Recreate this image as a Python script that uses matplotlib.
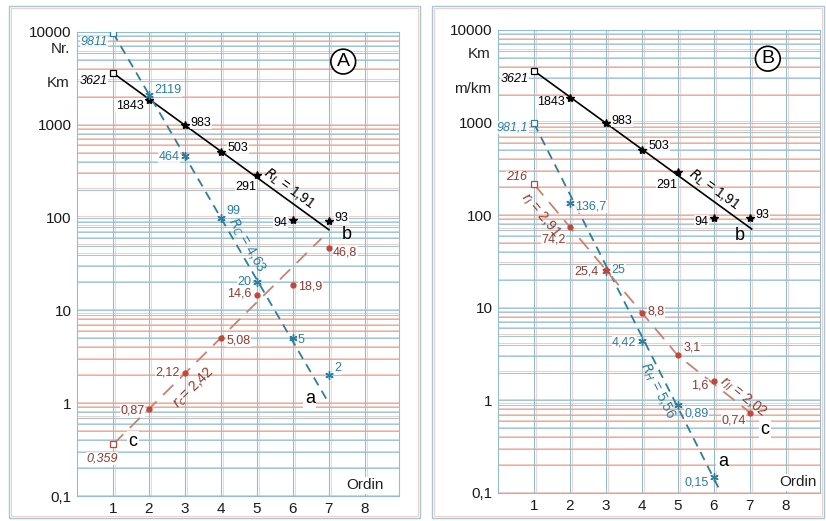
import numpy as np
import matplotlib
matplotlib.use('Agg')
import matplotlib.pyplot as plt
from matplotlib.patches import Rectangle

plt.rcParams['font.family'] = ['Liberation Sans', 'DejaVu Sans']

# ordin (stream order) on x
ordin = [1, 2, 3, 4, 5, 6, 7]

# panel A
a_length = [3621, 1843, 983, 503, 291, 94, 93]      # Km (b)
a_number = [9811, 2119, 464, 99, 20, 5, 2]          # Nr. (a)
a_slope = [0.359, 0.87, 2.12, 5.08, 14.6, 18.9, 46.8]  # (c)

# panel B
b_length = [3621, 1843, 983, 503, 291, 94, 93]      # Km (b)
b_ordin_h = [1, 2, 3, 4, 5, 6]
b_h = [981.1, 136.7, 25, 4.42, 0.89, 0.15]           # (a)
b_slope = [216, 74.2, 25.4, 8.8, 3.1, 1.6, 0.74]     # m/km (c)

# regression lines, end points
a_fit_len_x, a_fit_len_y = [1, 7], [3621, 74]
a_fit_num_x, a_fit_num_y = [1, 7], [9811, 1.0]
a_fit_slope_x, a_fit_slope_y = [1, 6.8], [0.359, 60]
b_fit_len_x, b_fit_len_y = [1, 7.05], [3621, 71]
b_fit_h_x, b_fit_h_y = [1, 6.15], [981.1, 0.11]
b_fit_slope_x, b_fit_slope_y = [1, 5, 7.25], [216, 3.05, 0.62]

BLUE = '#2a7f9e'
RED = '#c0473a'
RED_LINE = '#c9826f'
RED_TXT = '#8e3a2e'
GRID_B = '#92bdd0'
GRID_R = '#f4c4b8'

FS_NUM = 9


def fmt(v):
  return ('%g' % v).replace('.', ',')


def paper(ax):
  ax.set_yscale('log')
  ax.set_xlim(0, 8.95)
  ax.set_ylim(0.1, 10000)
  for e in range(-1, 4):
    for m in range(1, 10):
      v = m * 10.0 ** e
      ax.axhline(v, color=GRID_B, lw=0.6, zorder=1)
      ax.axhline(v * 1.03, color=GRID_R, lw=0.6, zorder=0.9)
  ax.axhline(10000, color=GRID_B, lw=0.6, zorder=1)
  for x in range(1, 9):
    ax.axvline(x, color=GRID_B, lw=0.8, zorder=1)
    ax.axvline(x + 0.05, color=GRID_R, lw=0.5, zorder=0.9)
  for s in ax.spines.values():
    s.set_color(GRID_B)
    s.set_linewidth(0.8)
  ax.set_yticks([0.1, 1, 10, 100, 1000, 10000])
  ax.set_yticklabels(['0,1', '1', '10', '100', '1000', '10000'])
  ax.set_xticks(range(1, 9))
  ax.tick_params(length=0, labelsize=11, colors='#1a1a1a', pad=4)
  ax.yaxis.set_minor_locator(matplotlib.ticker.NullLocator())
  ax.text(8.0 if ax.get_label() == 'A' else 8.33, 0.13, 'Ordin', ha='center',
          va='center', fontsize=11, color='#222222', zorder=5,
          bbox=dict(fc='white', ec='none', pad=1))


def series(ax, x, y, color, marker, ms, labels_off, txtcolor, first_italic=True):
  ax.plot(x[1:], y[1:], ls='none', marker=marker, color=color, ms=ms,
          mew=1.0, zorder=4)
  ax.plot(x[:1], y[:1], ls='none', marker='s', mfc='white', mec=color,
          ms=4, mew=0.9, zorder=4)
  for i, (xi, yi) in enumerate(zip(x, y)):
    dx, dy, ha = labels_off[i]
    ax.annotate(fmt(yi), (xi, yi), xytext=(dx, dy), textcoords='offset points',
                ha=ha, va='center', fontsize=FS_NUM, color=txtcolor,
                style='italic' if (i == 0 and first_italic) else 'normal',
                zorder=6, bbox=dict(fc='white', ec='none', pad=0.3, alpha=0.8))


def rot_label(ax, x, y, txt, x0, y0, x1, y1, color):
  p0 = ax.transData.transform((x0, y0))
  p1 = ax.transData.transform((x1, y1))
  ang = np.degrees(np.arctan2(p1[1] - p0[1], p1[0] - p0[0]))
  ax.text(x, y, txt, rotation=ang, rotation_mode='anchor', ha='center',
          va='center', fontsize=10, color=color, zorder=6)


def main():
  fig = plt.figure(figsize=(8.26, 5.21), dpi=100)
  axA = fig.add_axes([77 / 826, 25 / 521, 322 / 826, 464 / 521], label='A')
  axB = fig.add_axes([498 / 826, 28 / 521, 322 / 826, 463 / 521], label='B')

  for x0, x1 in [(9, 420), (432, 824)]:
    fig.add_artist(Rectangle((x0 / 826, 3 / 521), (x1 - x0) / 826, 512 / 521,
                             transform=fig.transFigure, fill=False,
                             ec='#a9c6d4', lw=1.0))
    fig.add_artist(Rectangle(((x0 + 2) / 826, 5 / 521), (x1 - x0 - 4) / 826,
                             508 / 521, transform=fig.transFigure, fill=False,
                             ec='#f3cfc6', lw=0.7))

  # ---- panel A
  ax = axA
  paper(ax)
  ax.plot(a_fit_len_x, a_fit_len_y, color='black', lw=1.2, zorder=3)
  ax.plot(a_fit_num_x, a_fit_num_y, color=BLUE, lw=1.3, ls=(0, (5, 3.5)), zorder=3)
  ax.plot(a_fit_slope_x, a_fit_slope_y, color=RED_LINE, lw=1.3,
          ls=(0, (8, 5)), zorder=3)
  series(ax, ordin, a_length, 'black', '*', 6,
         [(-4, -6, 'right'), (-4, -4, 'right'), (4, 2, 'left'), (5, 3, 'left'),
          (-8, -9, 'center'), (-4, -2, 'right'), (4, 2, 'left')], 'black')
  series(ax, ordin, a_number, BLUE, (6, 2, 0), 6,
         [(-4, -7, 'right'), (4, 3, 'left'), (-4, -1, 'right'), (4, 5, 'left'),
          (-4, 0, 'right'), (3, -1, 'left'), (4, 5, 'left')], BLUE)
  series(ax, ordin, a_slope, RED, 'o', 3.5,
         [(-8, -10, 'center'), (-3, -1, 'right'), (-4, 0, 'right'), (4, -2, 'left'),
          (-4, 1, 'right'), (4, -1, 'left'), (3, -3, 'left')], RED_TXT)
  rot_label(ax, 5.9, 205, r'$R_L$ = 1,91', 1, 3621, 7, 74, 'black')
  rot_label(ax, 4.72, 50, r'$R_C$ = 4,63', 1, 9811, 7, 1.0, BLUE)
  rot_label(ax, 3.25, 1.45, r'$r_c$= 2,42', 1, 0.359, 6.8, 60, RED_TXT)
  ax.text(7.5, 66, 'b', fontsize=13, ha='center', va='center', zorder=6)
  ax.text(6.47, 1.13, 'a', fontsize=13, ha='center', va='center', zorder=6,
          bbox=dict(fc='white', ec='none', pad=1))
  ax.text(1.56, 0.39, 'c', fontsize=13, ha='center', va='center', zorder=6,
          bbox=dict(fc='white', ec='none', pad=1))
  ax.text(-0.2, 6600, 'Nr.', ha='right', va='center',
          fontsize=11, color='#222222', clip_on=False)
  ax.text(-0.2, 2800, 'Km', ha='right', va='center', fontsize=11,
          color='#222222', clip_on=False)
  ax.text(7.4, 4800, 'A', fontsize=14, ha='center', va='center', zorder=6,
          bbox=dict(boxstyle='circle,pad=0.2', fc='white', ec='black', lw=1.2))

  # ---- panel B
  ax = axB
  paper(ax)
  ax.plot(b_fit_len_x, b_fit_len_y, color='black', lw=1.2, zorder=3)
  ax.plot(b_fit_h_x, b_fit_h_y, color=BLUE, lw=1.3, ls=(0, (5, 3.5)), zorder=3)
  ax.plot(b_fit_slope_x, b_fit_slope_y, color=RED_LINE, lw=1.3,
          ls=(0, (8, 5)), zorder=3)
  series(ax, ordin, b_length, 'black', '*', 6,
         [(-4, -6, 'right'), (-4, -3, 'right'), (4, 2, 'left'), (5, 3, 'left'),
          (-8, -9, 'center'), (-4, -3, 'right'), (4, 2, 'left')], 'black')
  series(ax, b_ordin_h, b_h, BLUE, (6, 2, 0), 6,
         [(-4, -3, 'right'), (4, -3, 'left'), (4, 1, 'left'), (-4, -1, 'right'),
          (5, -6, 'left'), (-4, -4, 'right')], BLUE)
  series(ax, ordin, b_slope, RED, 'o', 3.5,
         [(-5, 5, 'right'), (-3, -9, 'right'), (-5, -1, 'right'), (4, 1, 'left'),
          (4, 5, 'left'), (-4, -3, 'right'), (-3, -6, 'right')], RED_TXT)
  rot_label(ax, 6.0, 190, r'$R_L$ = 1,91', 1, 3621, 7.05, 71, 'black')
  rot_label(ax, 4.42, 1.28, r'$R_H$ = 5,56', 1, 981.1, 6.15, 0.11, BLUE)
  rot_label(ax, 1.17, 100, r'$r_I$ = 2,91', 1, 216, 5, 3.05, RED_TXT)
  rot_label(ax, 6.8, 1.1, r'$r_{II}$ = 2,02', 5, 3.05, 7.25, 0.62, RED_TXT)
  ax.text(6.72, 60, 'b', fontsize=13, ha='center', va='center', zorder=6)
  ax.text(6.25, 0.22, 'a', fontsize=13, ha='center', va='center', zorder=6,
          bbox=dict(fc='white', ec='none', pad=1))
  ax.text(7.42, 0.49, 'c', fontsize=13, ha='center', va='center', zorder=6,
          bbox=dict(fc='white', ec='none', pad=1))
  ax.text(-0.2, 5500, 'Km', ha='right', va='center', fontsize=11,
          color='#222222', clip_on=False)
  ax.text(-0.2, 2300, 'm/km', ha='right', va='center', fontsize=11,
          color='#222222', clip_on=False)
  ax.text(7.5, 4900, 'B', fontsize=14, ha='center', va='center', zorder=6,
          bbox=dict(boxstyle='circle,pad=0.2', fc='white', ec='black', lw=1.2))

  fig.savefig('out.png', dpi=100)


if __name__ == '__main__':
  main()
